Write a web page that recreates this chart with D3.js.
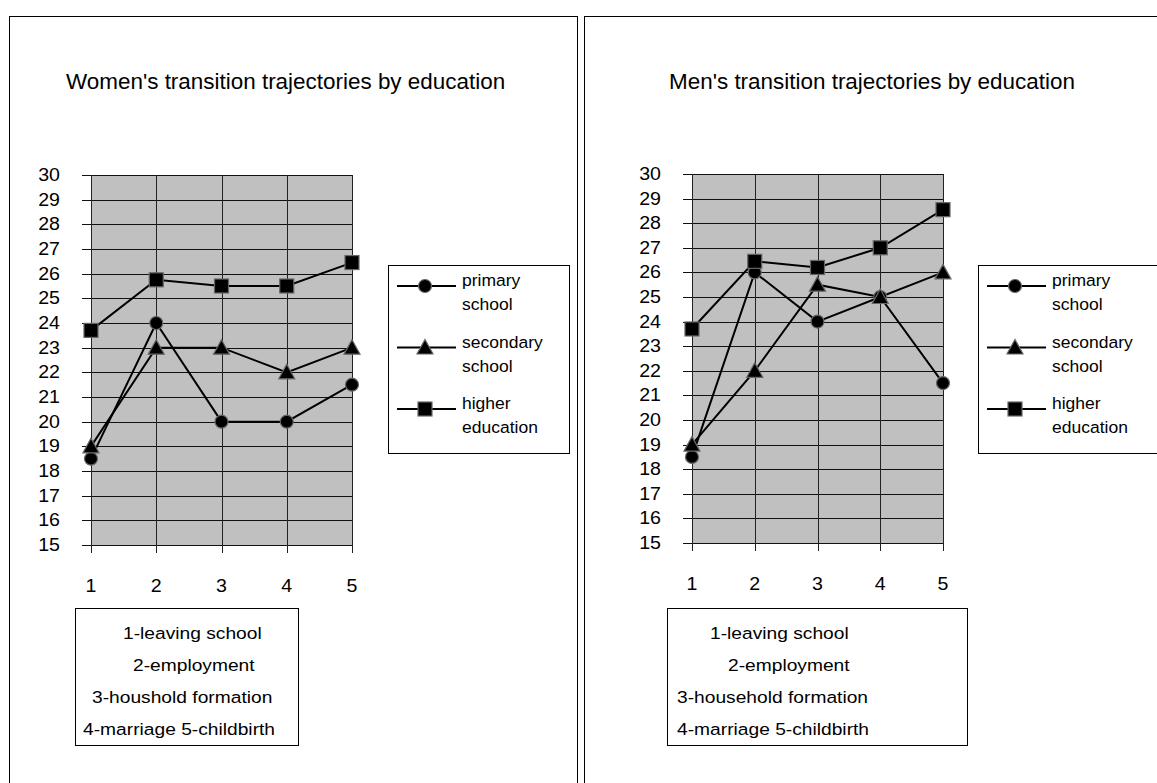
<!DOCTYPE html>
<html>
  <head>
    <meta charset="utf-8">
    <style type="text/css">
      body { margin: 0; background: #fff; }
      text { font-family: "Liberation Sans", Arial, Helvetica, sans-serif; fill: #000; }
    </style>
  </head>
  <body>
    <svg id="chart" width="1157" height="783"></svg>
    <script src="https://d3js.org/d3.v7.min.js"></script>
    <script>
      const stages = [1, 2, 3, 4, 5];
      const yTicks = d3.range(15, 31);
      const seriesNames = [["primary", "school"], ["secondary", "school"], ["higher", "education"]];
      const seriesShapes = ["circle", "triangle", "square"];

      const womenPrimary = [18.5, 24, 20, 20, 21.5];
      const womenSecondary = [19, 23, 23, 22, 23];
      const womenHigher = [23.7, 25.75, 25.5, 25.5, 26.45];

      const menPrimary = [18.5, 26, 24, 25, 21.5];
      const menSecondary = [19, 22, 25.5, 25, 26];
      const menHigher = [23.7, 26.45, 26.2, 27, 28.55];

      const womenNotes = ["1-leaving school", "2-employment", "3-houshold formation", "4-marriage 5-childbirth"];
      const menNotes = ["1-leaving school", "2-employment", "3-household formation", "4-marriage 5-childbirth"];

      const panels = [
        {
          title: "Women's transition trajectories by education",
          series: [womenPrimary, womenSecondary, womenHigher],
          notes: womenNotes,
          box: {x: 9, y: 16, w: 568, h: 820},
          titlePos: [66, 89],
          xr: [91, 352], yr: [545, 175],
          legend: {x: 388, y: 265, w: 181, h: 188},
          noteBox: {x: 75, y: 608, w: 223, h: 137},
          noteX: [123, 133, 92, 83]
        },
        {
          title: "Men's transition trajectories by education",
          series: [menPrimary, menSecondary, menHigher],
          notes: menNotes,
          box: {x: 584, y: 16, w: 600, h: 820},
          titlePos: [669, 89],
          xr: [692, 943], yr: [543, 174],
          legend: {x: 978, y: 265, w: 180, h: 188},
          noteBox: {x: 667, y: 608, w: 300, h: 137},
          noteX: [710, 728, 677, 677]
        }
      ];

      const svg = d3.select("#chart");

      // text slightly stretched sideways, like the original export
      const label = (g, x, y, str, size, sx, anchor) => {
        g.append("text")
          .attr("transform", `translate(${x},${y}) scale(${sx},1)`)
          .attr("font-size", size)
          .attr("text-anchor", anchor || "start")
          .text(str);
      };

      const drawMarker = (g, shape, cx, cy) => {
        if (shape === "circle") {
          g.append("circle").attr("cx", cx).attr("cy", cy).attr("r", 6.5)
            .attr("fill", "#000").attr("stroke", "#666").attr("stroke-width", 1.2);
        } else if (shape === "triangle") {
          g.append("path")
            .attr("d", `M${cx},${cy - 8} L${cx + 8},${cy + 6.5} L${cx - 8},${cy + 6.5} Z`)
            .attr("fill", "#000").attr("stroke", "#666").attr("stroke-width", 1.2);
        } else {
          g.append("rect").attr("x", cx - 7).attr("y", cy - 7).attr("width", 14).attr("height", 14)
            .attr("fill", "#000").attr("stroke", "#666").attr("stroke-width", 1.2);
        }
      };

      panels.forEach((p) => {
        const g = svg.append("g");

        g.append("rect")
          .attr("x", p.box.x + 0.5).attr("y", p.box.y + 0.5)
          .attr("width", p.box.w).attr("height", p.box.h)
          .attr("fill", "none").attr("stroke", "#000").attr("stroke-width", 1);

        label(g, p.titlePos[0], p.titlePos[1], p.title, 22, 1.02);

        const x = d3.scaleLinear().domain([1, 5]).range(p.xr);
        const y = d3.scaleLinear().domain([15, 30]).range(p.yr);

        g.append("rect")
          .attr("x", x(1)).attr("y", y(30))
          .attr("width", x(5) - x(1)).attr("height", y(15) - y(30))
          .attr("fill", "#c0c0c0");

        // horizontal gridlines with left ticks
        g.selectAll(".hgrid").data(yTicks).enter().append("line")
          .attr("x1", x(1) - 9).attr("x2", x(5))
          .attr("y1", (d) => Math.round(y(d)) + 0.5).attr("y2", (d) => Math.round(y(d)) + 0.5)
          .attr("stroke", "#111").attr("stroke-width", 1);

        // vertical gridlines with bottom ticks
        g.selectAll(".vgrid").data(stages).enter().append("line")
          .attr("x1", (d) => Math.round(x(d)) + 0.5).attr("x2", (d) => Math.round(x(d)) + 0.5)
          .attr("y1", y(30)).attr("y2", y(15) + 8)
          .attr("stroke", "#222").attr("stroke-width", 1);

        yTicks.forEach((d) => label(g, x(1) - 31, y(d) + 6, d, 17.5, 1.12, "end"));
        stages.forEach((d) => label(g, x(d), y(15) + 47, d, 17.5, 1.12, "middle"));

        const line = d3.line().x((d, i) => x(stages[i])).y((d) => y(d));

        p.series.forEach((vals) => {
          g.append("path").datum(vals)
            .attr("d", line)
            .attr("fill", "none").attr("stroke", "#000").attr("stroke-width", 2);
        });
        p.series.forEach((vals, si) => {
          vals.forEach((v, i) => drawMarker(g, seriesShapes[si], x(stages[i]), y(v)));
        });

        // legend
        const L = p.legend;
        g.append("rect")
          .attr("x", L.x + 0.5).attr("y", L.y + 0.5).attr("width", L.w).attr("height", L.h)
          .attr("fill", "#fff").attr("stroke", "#000").attr("stroke-width", 1);
        seriesNames.forEach((nm, i) => {
          const ly = L.y + 21 + i * 61.5;
          g.append("line")
            .attr("x1", L.x + 9).attr("x2", L.x + 68)
            .attr("y1", ly).attr("y2", ly)
            .attr("stroke", "#000").attr("stroke-width", 2);
          drawMarker(g, seriesShapes[i], L.x + 37, ly);
          label(g, L.x + 74, ly, nm[0], 17, 1.03);
          label(g, L.x + 74, ly + 24, nm[1], 17, 1.03);
        });

        // notes box
        const N = p.noteBox;
        g.append("rect")
          .attr("x", N.x + 0.5).attr("y", N.y + 0.5).attr("width", N.w).attr("height", N.h)
          .attr("fill", "#fff").attr("stroke", "#000").attr("stroke-width", 1);
        p.notes.forEach((d, i) => label(g, p.noteX[i], N.y + 31 + i * 32, d, 17, 1.13));
      });
    </script>
  </body>
</html>
